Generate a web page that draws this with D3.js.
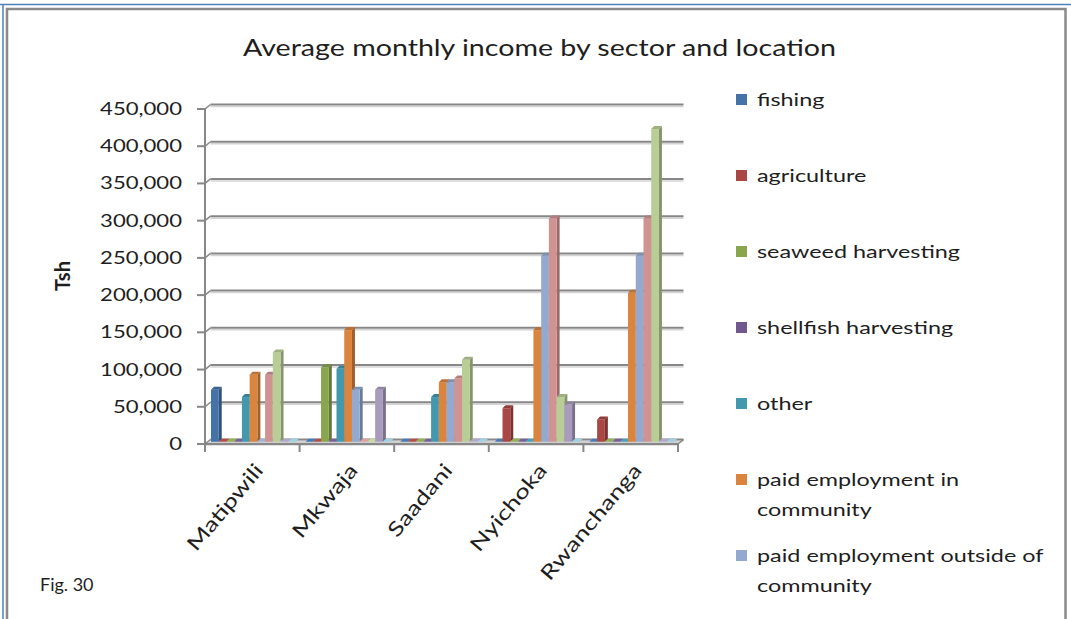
<!DOCTYPE html>
<html>
<head>
<meta charset="utf-8">
<script src="https://cdn.jsdelivr.net/npm/d3@7"></script>
<style>
  html, body { margin: 0; padding: 0; background: #fff; }
  svg { display: block; }
  text { font-family: Lato, "Open Sans", sans-serif; fill: #1e1e1e; }
</style>
</head>
<body>
<svg id="chart" width="1071" height="619"></svg>
<script>
// ---- data -------------------------------------------------------------
const categories = ["Matipwili", "Mkwaja", "Saadani", "Nyichoka", "Rwanchanga"];

const seriesNames = [
  "fishing",
  "agriculture",
  "seaweed harvesting",
  "shellfish harvesting",
  "other",
  "paid employment in community",
  "paid employment outside of community",
  "business",
  "tourism",
  "livestock",
  "remittances"
];

const fishing      = [70000,      0,      0,      0,      0];
const agriculture  = [    0,      0,      0,  45000,  30000];
const seaweed      = [    0, 100000,      0,      0,      0];
const shellfish    = [    0,      0,      0,      0,      0];
const other        = [60000,  98000,  60000,      0,      0];
const paidIn       = [90000, 150000,  80000, 150000, 200000];
const paidOut      = [    0,  70000,  80000, 250000, 250000];
const business     = [90000,      0,  85000, 300000, 300000];
const tourism      = [120000,     0, 110000,  60000, 420000];
const livestock    = [    0,  70000,      0,  50000,      0];
const remittances  = [    0,      0,      0,      0,      0];

const seriesValues = [fishing, agriculture, seaweed, shellfish, other,
                      paidIn, paidOut, business, tourism, livestock, remittances];

const yTicks = [0, 50000, 100000, 150000, 200000, 250000, 300000, 350000, 400000, 450000];

const colors = ["#4572A7", "#AA4643", "#89A54E", "#71588F", "#4198AF", "#DB843D",
                "#93A9CF", "#D19392", "#B9CD96", "#A99BBD", "#92C3D4"];

// ---- layout -----------------------------------------------------------
const W = 1071, H = 619;
const svg = d3.select("#chart");
const SX = 1.3;               // horizontal glyph stretch used for labels
const DEPTH_X = 5.5, DEPTH_Y = -4.5;   // floor depth (front edge -> back wall)

const yF = d3.scaleLinear().domain([0, 450000]).range([444, 109]);   // front axis
const yB = v => yF(v) + DEPTH_Y;                                      // back wall
const yM = v => yF(v) + DEPTH_Y / 2;                                  // bar depth

const x0 = d3.scaleBand().domain(categories).range([205, 678]);
const x1 = d3.scaleBand().domain(d3.range(seriesNames.length)).range([0, 85]);

// ---- frame ------------------------------------------------------------
svg.append("rect").attr("x", 0).attr("y", 0).attr("width", W).attr("height", H).attr("fill", "#fff");
svg.append("line").attr("x1", 0).attr("x2", W).attr("y1", 4.5).attr("y2", 4.5)
  .attr("stroke", "#4F81BD").attr("stroke-width", 1.5);
svg.append("line").attr("x1", 3).attr("x2", 3).attr("y1", 4).attr("y2", H)
  .attr("stroke", "#4F81BD").attr("stroke-width", 1.5);
svg.append("path").attr("d", `M7,${H + 6} V9 H1065.5 V${H + 6}`)
  .attr("fill", "none").attr("stroke", "#8a8a8a").attr("stroke-width", 2.5);

// ---- title ------------------------------------------------------------
svg.append("text")
  .attr("x", 539.5).attr("y", 56)
  .attr("text-anchor", "middle")
  .attr("font-size", 23.5)
  .attr("textLength", 593).attr("lengthAdjust", "spacingAndGlyphs")
  .text("Average monthly income by sector and location");

// ---- walls and floor --------------------------------------------------
const grid = svg.append("g");
grid.append("path")
  .attr("d", `M${x0.range()[0]},${yF(0)} L${x0.range()[1]},${yF(0)} L${x0.range()[1] + DEPTH_X},${yB(0)} L${x0.range()[0] + DEPTH_X},${yB(0)} Z`)
  .attr("fill", "#ececec").attr("stroke", "none");

yTicks.forEach(v => {
  grid.append("line")
    .attr("x1", x0.range()[0] + DEPTH_X).attr("x2", x0.range()[1] + DEPTH_X)
    .attr("y1", yB(v) + 2).attr("y2", yB(v) + 2)
    .attr("stroke", "#d4d4d4").attr("stroke-width", 1.5);
  grid.append("line")
    .attr("x1", x0.range()[0] + DEPTH_X).attr("x2", x0.range()[1] + DEPTH_X)
    .attr("y1", yB(v)).attr("y2", yB(v))
    .attr("stroke", "#878787").attr("stroke-width", 2);
  grid.append("line")
    .attr("x1", x0.range()[0]).attr("x2", x0.range()[0] + DEPTH_X)
    .attr("y1", yF(v)).attr("y2", yB(v))
    .attr("stroke", "#878787").attr("stroke-width", 1.5);
});

// ---- bars -------------------------------------------------------------
const bars = svg.append("g");
const bw = x1.step();
const TOP_DX = 3, TOP_DY = -3;
categories.forEach((cat, ci) => {
  seriesValues.forEach((vals, si) => {
    const v = vals[ci];
    const base = d3.color(colors[si]);
    const x = x0(cat) + 6 + x1(si);
    const yTop = yM(v), yBot = yM(0);
    const g = bars.append("g");
    g.append("path")
      .attr("d", `M${x + bw},${yBot} L${x + bw + TOP_DX},${yBot + TOP_DY} L${x + bw + TOP_DX},${yTop + TOP_DY} L${x + bw},${yTop} Z`)
      .attr("fill", base.darker(0.9));
    if (v > 0) {
      g.append("rect")
        .attr("x", x).attr("y", yTop)
        .attr("width", bw).attr("height", yBot - yTop)
        .attr("fill", base);
    }
    g.append("path")
      .attr("d", `M${x},${yTop} L${x + bw},${yTop} L${x + bw + TOP_DX},${yTop + TOP_DY} L${x + TOP_DX},${yTop + TOP_DY} Z`)
      .attr("fill", v > 0 ? base.darker(0.45) : base.brighter(0.2));
  });
});

// ---- front axes -------------------------------------------------------
const axes = svg.append("g");
axes.append("line")
  .attr("x1", x0.range()[0]).attr("x2", x0.range()[0])
  .attr("y1", yF(450000)).attr("y2", yF(0))
  .attr("stroke", "#878787").attr("stroke-width", 2);
axes.append("line")
  .attr("x1", x0.range()[0]).attr("x2", x0.range()[1])
  .attr("y1", yF(0)).attr("y2", yF(0))
  .attr("stroke", "#878787").attr("stroke-width", 2.5);
axes.append("line")
  .attr("x1", x0.range()[1]).attr("x2", x0.range()[1] + DEPTH_X)
  .attr("y1", yF(0)).attr("y2", yB(0))
  .attr("stroke", "#878787").attr("stroke-width", 1.5);

const fmt = d3.format(",");
yTicks.forEach(v => {
  axes.append("line")
    .attr("x1", 197).attr("x2", x0.range()[0])
    .attr("y1", yF(v)).attr("y2", yF(v))
    .attr("stroke", "#878787").attr("stroke-width", 2);
  axes.append("g")
    .attr("transform", `translate(182,${yF(v) + 6}) scale(${SX},1)`)
    .append("text")
    .attr("text-anchor", "end")
    .attr("font-size", 17)
    .text(fmt(v));
});

const catEdges = categories.map(c => x0(c)).concat([x0.range()[1]]);
catEdges.forEach(xv => {
  axes.append("line")
    .attr("x1", xv).attr("x2", xv)
    .attr("y1", yF(0)).attr("y2", yF(0) + 8)
    .attr("stroke", "#878787").attr("stroke-width", 2);
});

categories.forEach(cat => {
  const cx = x0(cat) + x0.bandwidth() / 2;
  axes.append("g")
    .attr("transform", `translate(${cx + 12},${471}) rotate(-50) scale(1.3,1)`)
    .append("text")
    .attr("text-anchor", "end")
    .attr("font-size", 20)
    .text(cat);
});

// y-axis title
svg.append("text")
  .attr("transform", "translate(70,276) rotate(-90)")
  .attr("text-anchor", "middle")
  .attr("font-size", 20)
  .attr("font-weight", "bold")
  .text("Tsh");

// ---- legend (entries past the bottom of the frame are not drawn) -------
const legend = svg.append("g");
const wrapAt = 26;
let ly = 100;
seriesNames.forEach((name, i) => {
  const words = name.split(" ");
  const lines = [];
  let cur = "";
  words.forEach(w => {
    const next = cur ? cur + " " + w : w;
    if (next.length > wrapAt && cur) { lines.push(cur); cur = w; } else { cur = next; }
  });
  lines.push(cur);
  if (ly + 8 < H) {
    legend.append("rect")
      .attr("x", 736).attr("y", ly - 6).attr("width", 11).attr("height", 11)
      .attr("fill", colors[i]);
    lines.forEach((ln, k) => {
      legend.append("g")
        .attr("transform", `translate(757,${ly + 6 + k * 30}) scale(${SX},1)`)
        .append("text")
        .attr("font-size", 18)
        .text(ln);
    });
  }
  ly += 76;
});

// figure number
svg.append("g")
  .attr("transform", "translate(40,591) scale(1.0,1)")
  .append("text")
  .attr("font-size", 18)
  .text("Fig. 30");
</script>
</body>
</html>
